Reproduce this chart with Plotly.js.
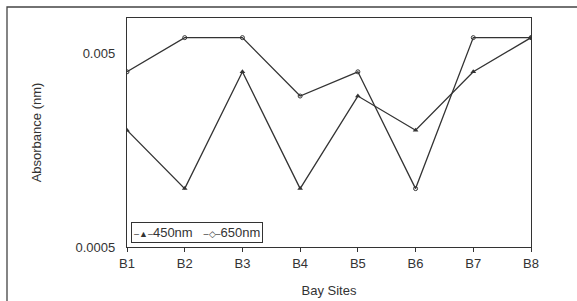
<!DOCTYPE html>
<html>
<head>
<meta charset="utf-8">
<script src="https://cdn.plot.ly/plotly-3.0.1.min.js"></script>
<style>
html,body{margin:0;padding:0;background:#fff;}
#chart{width:577px;height:301px;}
</style>
</head>
<body>
<div id="chart"></div>
<script>
var sites = ["B1","B2","B3","B4","B5","B6","B7","B8"];
var abs450 = [0.002, 0.001, 0.004, 0.001, 0.003, 0.002, 0.004, 0.006];
var abs650 = [0.004, 0.006, 0.006, 0.003, 0.004, 0.001, 0.006, 0.006];
var seriesNames = ["450nm", "650nm"];
var yTickVals = [0.0005, 0.005];
var yTickText = ["0.0005", "0.005"];

var ink = "#333";
var traces = [
  {x: sites, y: abs450, name: seriesNames[0], type: "scatter", mode: "lines+markers",
   line: {color: ink, width: 1.3},
   marker: {symbol: "triangle-up", size: 5, color: ink}},
  {x: sites, y: abs650, name: seriesNames[1], type: "scatter", mode: "lines+markers",
   line: {color: ink, width: 1.3},
   marker: {symbol: "circle-open", size: 4, color: ink, line: {width: 1, color: ink}}}
];

var g = '<span style="font-size:9px">';
var legendText = g + '‒▲‒</span>' + seriesNames[0] + '&nbsp;&nbsp;&nbsp;' + g + '‒◇‒</span>' + seriesNames[1];

var lo = Math.log10(0.0005);
var layout = {
  width: 577, height: 301,
  margin: {l: 127, r: 46, t: 18, b: 54},
  paper_bgcolor: "#fff", plot_bgcolor: "#fff",
  font: {family: "Liberation Sans, Arial, sans-serif", size: 13, color: "#333"},
  showlegend: false,
  xaxis: {
    type: "category", range: [0, 7], showgrid: false, zeroline: false,
    showline: true, linecolor: ink, linewidth: 1.2, mirror: true,
    ticks: "outside", ticklen: 4, tickcolor: ink,
    title: {text: "Bay Sites", font: {size: 13, color: "#333"}, standoff: 16}
  },
  yaxis: {
    type: "log", range: [lo, lo + 229/194], showgrid: false, zeroline: false,
    showline: true, linecolor: ink, linewidth: 1.2, mirror: true,
    tickvals: yTickVals, ticktext: yTickText, ticks: "", ticklabelstandoff: 8,
    title: {text: "Absorbance (nm)", font: {size: 13, color: "#333"}, standoff: 30}
  },
  annotations: [{
    xref: "paper", yref: "paper", x: 4/404, y: 25/229, xanchor: "left", yanchor: "top",
    showarrow: false, text: legendText, align: "left",
    bordercolor: ink, borderwidth: 1, borderpad: 2, bgcolor: "#fff",
    font: {size: 13, color: "#333"}
  }],
  shapes: [{type: "rect", xref: "paper", yref: "paper",
            x0: (7-127)/404, x1: 1.2, y0: -0.3, y1: (247-7)/229,
            line: {color: "#444", width: 1.3}}]
};
Plotly.newPlot("chart", traces, layout, {displayModeBar: false, staticPlot: true});
</script>
</body>
</html>
